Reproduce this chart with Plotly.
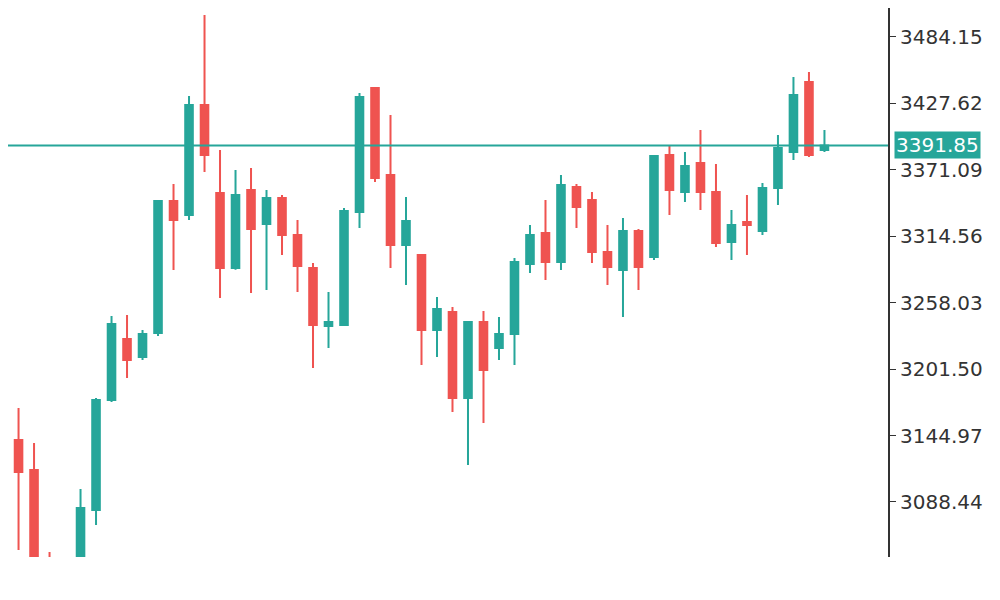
import plotly.graph_objects as go

# OHLC, one bar per slot
opens = [3111.4, 3141.2, 3115.6, 3022.0, 2971.0, 3022.0, 3081.6, 3175.2, 3227.1, 3211.8,
         3232.2, 3344.5, 3332.6, 3426.2, 3351.4, 3287.5, 3353.9, 3325.0, 3347.1, 3315.6,
         3287.5, 3238.2, 3239.0, 3335.2, 3440.7, 3366.7, 3307.1, 3298.6, 3234.8, 3250.1,
         3176.9, 3241.6, 3219.4, 3231.4, 3290.9, 3317.3, 3292.6, 3356.5, 3345.4, 3301.1,
         3285.8, 3319.0, 3296.9, 3383.7, 3352.2, 3376.9, 3352.2, 3309.7, 3326.7, 3319.0,
         3355.6, 3386.2, 3445.8, 3388.0]
highs = [3143.7, 3168.4, 3138.6, 3045.8, 3022.0, 3099.5, 3176.9, 3246.7, 3247.5, 3234.8,
         3345.4, 3359.0, 3433.9, 3502.8, 3388.0, 3370.9, 3372.6, 3353.9, 3349.7, 3328.4,
         3291.8, 3267.1, 3338.6, 3436.5, 3441.5, 3417.7, 3348.0, 3299.5, 3262.9, 3254.3,
         3241.6, 3250.9, 3245.8, 3296.0, 3324.1, 3345.4, 3366.7, 3359.0, 3352.2, 3324.1,
         3330.1, 3320.7, 3382.8, 3392.2, 3386.2, 3405.0, 3376.0, 3336.9, 3349.7, 3359.9,
         3400.7, 3450.1, 3454.3, 3405.0]
lows = [3104.6, 3047.6, 2996.5, 2979.5, 2962.5, 3013.5, 3068.8, 3173.5, 3193.9, 3209.2,
        3229.7, 3285.8, 3328.4, 3369.2, 3262.0, 3286.0, 3266.3, 3268.8, 3298.6, 3267.1,
        3202.4, 3219.4, 3238.2, 3321.6, 3360.7, 3287.5, 3273.1, 3205.0, 3211.8, 3165.0,
        3119.9, 3155.6, 3209.2, 3205.0, 3283.3, 3277.3, 3285.8, 3321.6, 3291.8, 3273.1,
        3245.8, 3268.8, 3294.3, 3332.6, 3343.7, 3336.9, 3305.4, 3294.3, 3298.6, 3315.6,
        3341.1, 3379.4, 3382.0, 3386.2]
closes = [3132.6, 3113.9, 3005.0, 2988.0, 3005.0, 3083.3, 3175.2, 3239.9, 3209.2, 3231.4,
          3344.5, 3328.4, 3426.2, 3383.7, 3287.5, 3349.7, 3320.7, 3347.1, 3315.6, 3289.2,
          3239.0, 3241.6, 3336.0, 3433.1, 3364.1, 3307.1, 3327.5, 3234.8, 3252.6, 3176.9,
          3241.6, 3200.7, 3231.4, 3292.6, 3315.6, 3292.6, 3358.2, 3339.4, 3301.1, 3288.4,
          3319.0, 3288.4, 3382.8, 3353.9, 3374.3, 3352.2, 3308.8, 3324.1, 3324.1, 3355.6,
          3389.7, 3434.8, 3383.7, 3391.85]

tick_vals = [3088.44, 3144.97, 3201.50, 3258.03, 3314.56, 3371.09, 3427.62, 3484.15]
last_price = 3391.85

GREEN = "#26a69a"
RED = "#ef5350"

fig = go.Figure(go.Candlestick(
    x=list(range(len(opens))),
    open=opens, high=highs, low=lows, close=closes,
    increasing=dict(line=dict(color=GREEN, width=2), fillcolor=GREEN),
    decreasing=dict(line=dict(color=RED, width=2), fillcolor=RED),
    whiskerwidth=0,
    showlegend=False,
))

fig.add_hline(y=last_price, line=dict(color=GREEN, width=2))
fig.add_annotation(
    x=1, xref="paper", y=last_price, yref="y",
    text=f"{last_price:.2f}", showarrow=False, xanchor="left", xshift=6,
    bgcolor=GREEN, font=dict(color="white", size=20, family="DejaVu Sans"),
    borderpad=1,
)

# page body has an 8px margin, so the figure is shrunk and the ranges shifted to match
fig.update_layout(
    width=992, height=592,
    paper_bgcolor="white", plot_bgcolor="white",
    margin=dict(l=0, r=112, t=0, b=43),
    xaxis=dict(range=[0.32, 57.1], visible=False, rangeslider=dict(visible=False)),
    yaxis=dict(
        side="right", range=[3041.6, 3508.8],
        tickvals=tick_vals, ticktext=[f"{v:.2f}" for v in tick_vals],
        ticks="outside", ticklen=6, tickcolor="#333",
        showline=True, linecolor="#333", linewidth=2,
        showgrid=False, zeroline=False,
        tickfont=dict(size=20, color="#333", family="DejaVu Sans"),
    ),
)

fig.write_html("out.html")
